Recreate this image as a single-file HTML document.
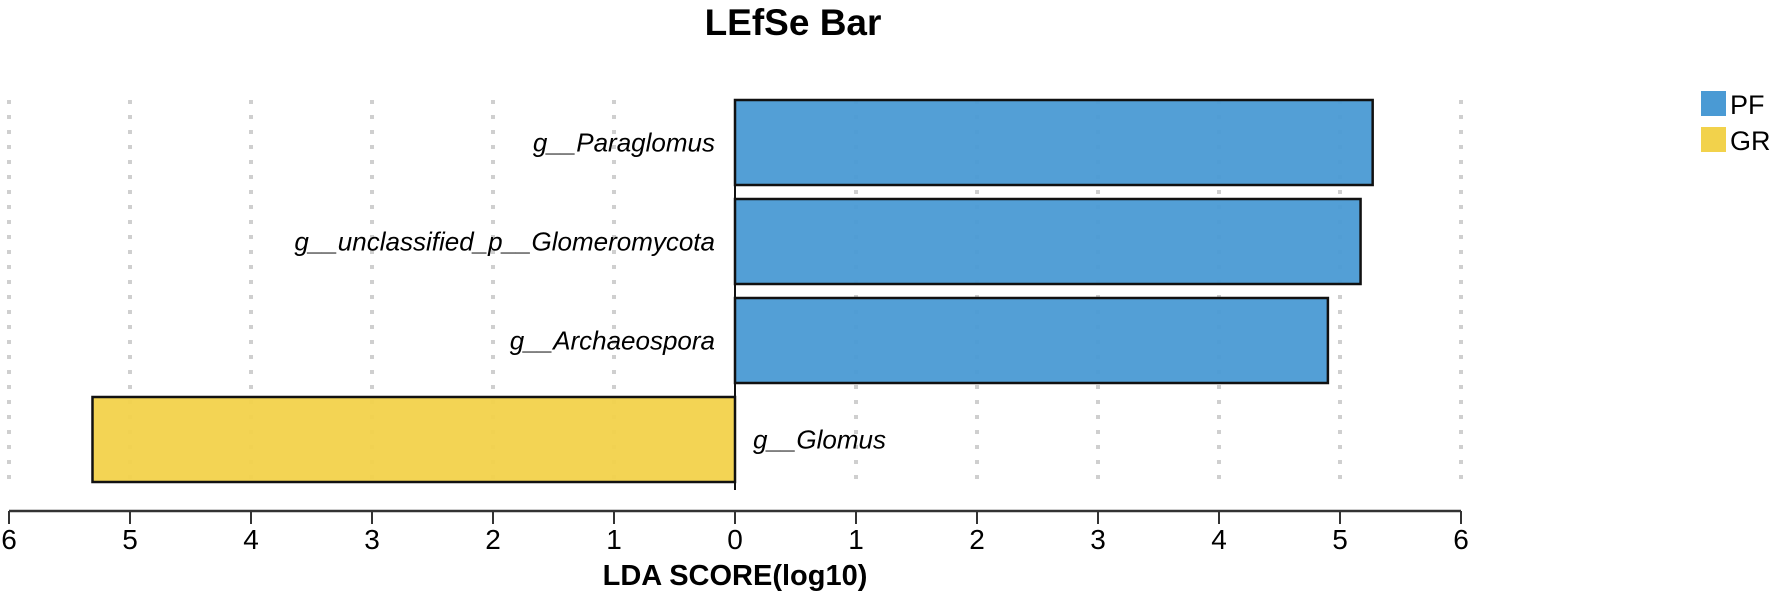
<!DOCTYPE html>
<html><head><meta charset="utf-8">
<style>
html,body{margin:0;padding:0;background:#fff;}
svg{display:block;font-family:"Liberation Sans",Arial,sans-serif;}
</style></head>
<body>
<svg id="chart" width="1772" height="592" viewBox="0 0 1772 592" xmlns="http://www.w3.org/2000/svg">
<text x="793" y="35" text-anchor="middle" font-size="37" font-weight="bold">LEfSe Bar</text>
<g id="grid"></g>
<g id="bars"></g>
<g id="axis"></g>
<text x="735" y="585" text-anchor="middle" font-size="29" font-weight="bold">LDA SCORE(log10)</text>
<g>
<rect x="1701" y="91" width="25" height="25" fill="#4a9ad4"/>
<text x="1730" y="114" font-size="27">PF</text>
<rect x="1701" y="127" width="25" height="25" fill="#f2d24b"/>
<text x="1730" y="150" font-size="27">GR</text>
</g>
</svg>
<script>
const taxa = ["g__Paraglomus","g__unclassified_p__Glomeromycota","g__Archaeospora","g__Glomus"];
const groups = ["PF","PF","PF","GR"];
const ldaValues = [5.27,5.17,4.90,5.31];
const tickValues = [-6,-5,-4,-3,-2,-1,0,1,2,3,4,5,6];
const tickLabels = ["6","5","4","3","2","1","0","1","2","3","4","5","6"];

const NS="http://www.w3.org/2000/svg";
const X0=735, UNIT=121, TOP=100, ROW=99, BARH=85, AXY=511;
const colors={PF:"#4a9ad4",GR:"#f2d24b"};
function xScale(v){return X0+v*UNIT;}
function yRow(i){return TOP+i*ROW;}
function mk(tag,attrs,parent){const e=document.createElementNS(NS,tag);for(const k in attrs)e.setAttribute(k,attrs[k]);parent.appendChild(e);return e;}
const grid=document.getElementById('grid'), barsG=document.getElementById('bars'), axis=document.getElementById('axis');

tickValues.forEach((t,i)=>{
  if(t===0) return;
  const g=mk('line',{x1:xScale(t),x2:xScale(t),y1:100,y2:490,stroke:"#cfcfcf","stroke-width":4,"stroke-dasharray":"4 11"},grid);
  
  
});

taxa.forEach((name,i)=>{
  const v=ldaValues[i], sign=groups[i]==="PF"?1:-1;
  const x1=xScale(0), x2=xScale(sign*v);
  const r=mk('rect',{x:Math.min(x1,x2),y:yRow(i),width:Math.abs(x2-x1),height:BARH,fill:colors[groups[i]],"fill-opacity":0.95,stroke:"#111","stroke-width":2.5},barsG);
  
  
  const tx=sign>0?xScale(0)-20:xScale(0)+18;
  const t=mk('text',{x:tx,y:yRow(i)+BARH/2+9,"text-anchor":sign>0?"end":"start","font-size":26,"font-style":"italic"},barsG);
  t.textContent=name;
  
  
});

const zl=mk('line',{x1:X0,x2:X0,y1:TOP,y2:490,stroke:"#111","stroke-width":2},barsG);



const al=mk('line',{x1:xScale(tickValues[0]),x2:xScale(tickValues[tickValues.length-1]),y1:AXY,y2:AXY,stroke:"#333","stroke-width":2.5},axis);


tickValues.forEach((t,i)=>{
  const tk=mk('line',{x1:xScale(t),x2:xScale(t),y1:AXY,y2:AXY+13,stroke:"#333","stroke-width":2},axis);
  
  
  const lb=mk('text',{x:xScale(t),y:AXY+38,"text-anchor":"middle","font-size":28},axis);
  lb.textContent=tickLabels[i];
  
  
});
</script>
</body></html>
